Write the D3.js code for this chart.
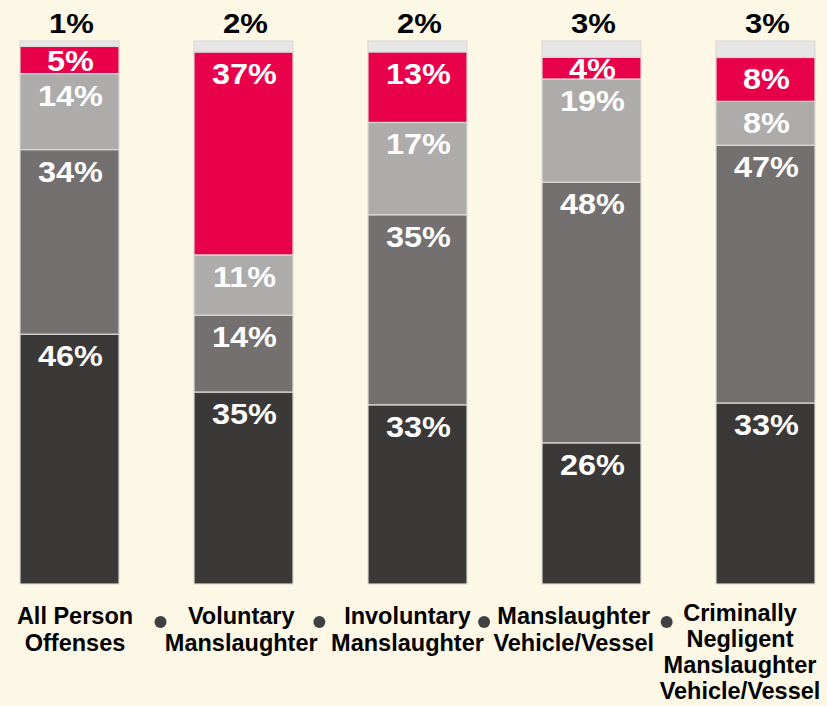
<!DOCTYPE html>
<html>
<head>
<meta charset="utf-8">
<script src="https://cdn.jsdelivr.net/npm/d3@7"></script>
<style>
  html, body { margin: 0; padding: 0; background: #fdf8e6; }
  svg { display: block; font-family: 'Liberation Sans', Arial, sans-serif; font-weight: bold; }
</style>
</head>
<body>
<div id="chart"></div>
<script>
const categories = [
  'All Person Offenses',
  'Voluntary Manslaughter',
  'Involuntary Manslaughter',
  'Manslaughter Vehicle/Vessel',
  'Criminally Negligent Manslaughter Vehicle/Vessel'
]
const categoryLines = [
  ['All Person', 'Offenses'],
  ['Voluntary', 'Manslaughter'],
  ['Involuntary', 'Manslaughter'],
  ['Manslaughter', 'Vehicle/Vessel'],
  ['Criminally', 'Negligent', 'Manslaughter', 'Vehicle/Vessel']
]
// stacked bottom to top
const seriesKeys = ['s1', 's2', 's3', 's4', 's5']
const s1 = [46, 35, 33, 26, 33]
const s2 = [34, 14, 35, 48, 47]
const s3 = [14, 11, 17, 19, 8]
const s4 = [5, 37, 13, 4, 8]
const s5 = [1, 2, 2, 3, 3]

const colors = ['#3b3838', '#747070', '#aeabab', '#e8004b', '#e7e6e6']

const width = 827
const height = 706

const data = categories.map((c, i) => ({
  cat: c, s1: s1[i], s2: s2[i], s3: s3[i], s4: s4[i], s5: s5[i]
}))

const svg = d3.select('#chart')
  .append('svg')
  .attr('width', width)
  .attr('height', height)

svg.append('rect')
  .attr('width', width)
  .attr('height', height)
  .attr('fill', '#fdf8e6')

const x = d3.scaleBand()
  .domain(categories)
  .range([20, 815])
  .paddingInner(0.431)
  .paddingOuter(0)

const y = d3.scaleLinear()
  .domain([0, 1])
  .range([584, 41])

const stack = d3.stack()
  .keys(seriesKeys)
  .offset(d3.stackOffsetExpand)

const stacked = stack(data)

const layers = svg.selectAll('.layer')
  .data(stacked)
  .join('g')
  .attr('class', 'layer')
  .attr('fill', (d, i) => colors[i])

layers.selectAll('rect')
  .data(d => d)
  .join('rect')
  .attr('x', d => x(d.data.cat))
  .attr('width', x.bandwidth())
  .attr('y', d => y(d[1]))
  .attr('height', d => y(d[0]) - y(d[1]))
  .attr('stroke', '#dcdad6')
  .attr('stroke-width', 1.2)

// white value labels in first four series
stacked.slice(0, 4).forEach((layer) => {
  svg.append('g')
    .selectAll('text')
    .data(layer)
    .join('text')
    .attr('transform', d => {
      const top = y(d[1])
      const h = y(d[0]) - top
      const base = top + Math.min(32, h / 2 + 10.5)
      return `translate(${x(d.data.cat) + x.bandwidth() / 2 + 1},${base}) scale(1.08,1)`
    })
    .attr('text-anchor', 'middle')
    .attr('fill', '#ffffff')
    .attr('font-size', 30)
    .text(d => d.data[layer.key] + '%')
})

// top series labels above bars
svg.append('g')
  .selectAll('text')
  .data(data)
  .join('text')
  .attr('transform', d => `translate(${x(d.cat) + x.bandwidth() / 2 + 2},33) scale(1.15,1)`)
  .attr('text-anchor', 'middle')
  .attr('fill', '#000000')
  .attr('font-size', 27)
  .text(d => d.s5 + '%')

// category labels
const lx = d3.scalePoint()
  .domain(categories)
  .range([75, 740])

const labels = svg.append('g')
  .selectAll('text')
  .data(categories)
  .join('text')
  .attr('text-anchor', 'middle')
  .attr('fill', '#000000')
  .attr('font-size', 23.5)
  .attr('x', d => lx(d))
  .attr('y', (d, i) => categoryLines[i].length > 2 ? 621 : 624)

labels.each(function (d, i) {
  const t = d3.select(this)
  const gap = categoryLines[i].length > 2 ? 26 : 27
  categoryLines[i].forEach((line, j) => {
    t.append('tspan')
      .attr('x', lx(d))
      .attr('dy', j === 0 ? 0 : gap)
      .text(line)
  })
})

// separator dots between the first lines of neighbouring labels
const firstSpans = labels.nodes().map(n => n.querySelector('tspan'))
const edges = firstSpans.map((s, i) => {
  const w = s.getComputedTextLength()
  return { left: lx(categories[i]) - w / 2, right: lx(categories[i]) + w / 2 }
})
const dots = d3.range(categories.length - 1).map(i => (edges[i].right + edges[i + 1].left) / 2)

svg.append('g')
  .selectAll('circle')
  .data(dots)
  .join('circle')
  .attr('cx', d => d)
  .attr('cy', 622)
  .attr('r', 6)
  .attr('fill', '#404040')
</script>
</body>
</html>
